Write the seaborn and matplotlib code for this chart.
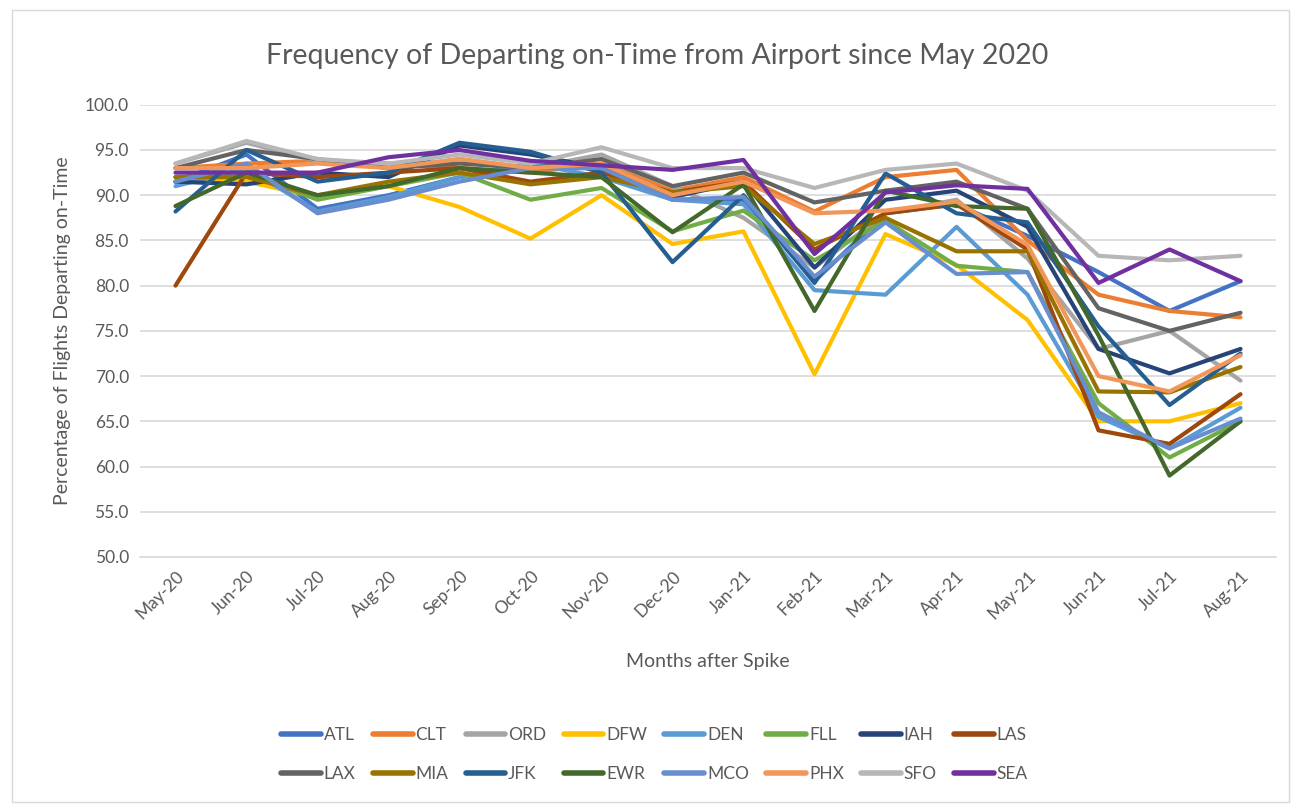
#
# line chart: on-time departure frequency by airport
#
import numpy as np
import pandas as pd
import matplotlib
matplotlib.use('Agg')
import matplotlib.pyplot as plt
import seaborn as sns
from matplotlib.patches import Rectangle

# months on the category axis
months = ['May-20', 'Jun-20', 'Jul-20', 'Aug-20', 'Sep-20', 'Oct-20', 'Nov-20', 'Dec-20',
          'Jan-21', 'Feb-21', 'Mar-21', 'Apr-21', 'May-21', 'Jun-21', 'Jul-21', 'Aug-21']

# airports in legend order
airports = ['ATL', 'CLT', 'ORD', 'DFW', 'DEN', 'FLL', 'IAH', 'LAS',
            'LAX', 'MIA', 'JFK', 'EWR', 'MCO', 'PHX', 'SFO', 'SEA']

# percentage of flights departing on time
atl = [91.5, 94.5, 88.5, 90.0, 92.0, 93.0, 93.0, 89.5, 89.5, 80.5, 88.0, 89.0, 85.5, 81.5, 77.2, 80.5]
clt = [93.0, 93.5, 93.8, 93.5, 93.0, 92.5, 93.5, 90.5, 92.0, 88.2, 92.0, 92.8, 85.0, 79.0, 77.2, 76.5]
ord_ = [93.5, 95.8, 93.8, 93.0, 94.0, 93.0, 94.5, 91.0, 87.5, 82.0, 88.0, 89.5, 83.0, 73.0, 75.0, 69.5]
dfw = [92.0, 91.5, 89.8, 91.0, 88.7, 85.2, 90.0, 84.6, 86.0, 70.2, 85.7, 82.3, 76.2, 65.0, 65.0, 67.0]
den = [91.0, 93.0, 88.2, 89.8, 92.0, 93.5, 92.0, 89.5, 89.0, 79.5, 79.0, 86.5, 79.0, 65.5, 62.0, 66.5]
fll = [92.0, 92.5, 89.5, 91.0, 92.5, 89.5, 90.8, 86.0, 88.3, 82.8, 87.2, 82.2, 81.5, 67.0, 61.0, 65.0]
iah = [91.5, 91.2, 92.5, 92.0, 95.5, 94.5, 93.0, 89.8, 91.5, 82.0, 89.5, 90.5, 86.5, 73.0, 70.3, 73.0]
las = [80.0, 92.5, 92.0, 92.5, 93.0, 91.5, 92.5, 90.3, 91.5, 84.0, 88.0, 89.0, 84.0, 64.0, 62.5, 68.0]
lax = [93.0, 95.0, 94.0, 93.0, 93.5, 93.0, 94.0, 91.0, 92.5, 89.2, 90.5, 91.5, 88.5, 77.5, 75.0, 77.0]
mia = [92.0, 92.0, 90.0, 91.5, 92.5, 91.2, 92.0, 90.3, 91.0, 84.6, 87.5, 83.8, 83.8, 68.3, 68.2, 71.0]
jfk = [88.2, 95.0, 91.5, 92.5, 95.8, 94.8, 92.5, 82.6, 90.0, 80.3, 92.4, 88.0, 87.0, 75.5, 66.8, 72.5]
ewr = [88.8, 92.5, 90.0, 91.0, 93.0, 92.5, 92.0, 85.9, 91.2, 77.2, 90.5, 88.8, 88.5, 74.5, 59.0, 65.0]
mco = [91.5, 93.5, 88.0, 89.5, 91.5, 93.0, 93.0, 89.5, 89.8, 81.0, 87.0, 81.3, 81.5, 66.0, 62.0, 65.3]
phx = [93.0, 93.0, 93.5, 93.0, 94.0, 93.0, 93.5, 90.0, 91.5, 88.0, 88.3, 89.3, 84.5, 70.0, 68.3, 72.3]
sfo = [93.5, 96.0, 94.0, 93.5, 94.5, 93.5, 95.3, 93.0, 93.0, 90.8, 92.8, 93.5, 90.5, 83.3, 82.8, 83.3]
sea = [92.5, 92.5, 92.5, 94.2, 95.0, 93.8, 93.3, 92.8, 93.9, 83.5, 90.3, 91.1, 90.7, 80.3, 84.0, 80.5]

series = [atl, clt, ord_, dfw, den, fll, iah, las, lax, mia, jfk, ewr, mco, phx, sfo, sea]

colors = ['#4472C4', '#ED7D31', '#A5A5A5', '#FFC000', '#5B9BD5', '#70AD47', '#264478', '#9E480E',
          '#636363', '#997300', '#255E91', '#43682B', '#698ED0', '#F1975A', '#B7B7B7', '#7030A0']

#---
# long-form dataframe
#---
rows = []
for name, vals in zip(airports, series):
    for i, v in enumerate(vals):
        rows.append({'airport': name, 'month': i, 'pct': v})
df = pd.DataFrame(rows)

sns.set_theme(style='white')
plt.rcParams['font.family'] = ['Lato', 'DejaVu Sans']

fig = plt.figure(figsize=(13.01, 8.06), dpi=100)
ax = fig.add_axes([0.1076, 0.309, 0.8732, 0.561])

# chart border
fig.patches.append(Rectangle((0.009, 0.005), 0.982, 0.983, transform=fig.transFigure,
                             fill=False, edgecolor='#D9D9D9', linewidth=1.0))

sns.lineplot(data=df, x='month', y='pct', hue='airport', hue_order=airports,
             palette=dict(zip(airports, colors)), linewidth=3.0, sort=False,
             legend=True, ax=ax)

ax.set_xlim(-0.5, len(months) - 0.5)
ax.set_ylim(50, 100)
ax.set_yticks(np.arange(50, 100.1, 5))
ax.set_yticklabels([f'{v:.1f}' for v in np.arange(50, 100.1, 5)], fontsize=12.5, color='#595959')
ax.set_xticks(range(len(months)))
ax.set_xticklabels(months, rotation=45, ha='right', rotation_mode='anchor',
                   fontsize=12.5, color='#595959')
ax.tick_params(axis='both', length=0, pad=8)
ax.yaxis.grid(True, color='#D9D9D9', linewidth=1.2)
ax.set_axisbelow(True)
for s in ['top', 'right', 'left']:
    ax.spines[s].set_visible(False)
ax.spines['bottom'].set_color('#D9D9D9')
ax.spines['bottom'].set_linewidth(1.2)

ax.set_xlabel('Months after Spike', fontsize=14, color='#595959', labelpad=22)
ax.set_ylabel('Percentage of Flights Departing on-Time', fontsize=14, color='#595959', labelpad=10)
fig.text(0.505, 0.93, 'Frequency of Departing on-Time from Airport since May 2020',
         ha='center', va='center', fontsize=20.5, color='#595959')

# legend in two rows, filled row by row
handles, labels = ax.get_legend_handles_labels()
ax.get_legend().remove()
for h in handles:
    h.set_linewidth(4.0)
order = []
for c in range(8):
    order += [c, c + 8]
fig.legend([handles[i] for i in order], [labels[i] for i in order],
           loc='center', bbox_to_anchor=(0.503, 0.064), ncol=8, frameon=False,
           fontsize=12.5, handlelength=2.3, handletextpad=0.15, columnspacing=1.0,
           labelspacing=1.3, labelcolor='#595959')

plt.savefig('out.png', dpi=100)
plt.close()
